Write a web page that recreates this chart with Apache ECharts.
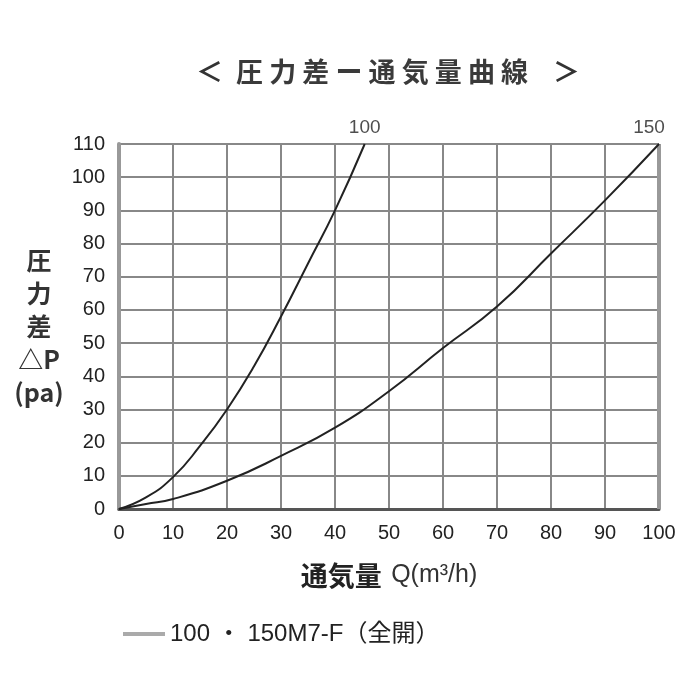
<!DOCTYPE html>
<html><head><meta charset="utf-8">
<script src="https://cdn.jsdelivr.net/npm/echarts@6/dist/echarts.min.js"></script>
<style>html,body{margin:0;padding:0;background:#fff}#c{width:700px;height:700px}</style>
</head><body><div id="c"></div>
<script>
const xTicks = [0,10,20,30,40,50,60,70,80,90,100];
const yTicks = [0,10,20,30,40,50,60,70,80,90,100,110];
const q100 = [0, 5, 10, 15, 20, 25, 30, 35, 40, 45.5];
const p100 = [0, 3.5, 9.6, 19, 30, 43, 58, 74, 90, 110];
const q150 = [0, 5, 10, 20, 30, 40, 50, 60, 70, 80, 90, 100];
const p150 = [0, 1.5, 3, 8.5, 16, 24.5, 35.5, 48.5, 61, 77, 93, 110];
const curveLabels = ['100', '150'];
const legendName = '100 ・ 150M7-F（全開）';

const font = "'Liberation Sans', 'Noto Sans CJK JP', sans-serif";
const cjk = "'Noto Sans CJK JP', sans-serif";
const ends = [
  {value:[q100[q100.length-1], p100[p100.length-1]], label:{formatter:curveLabels[0], offset:[0,0]}},
  {value:[q150[q150.length-1], p150[p150.length-1]], label:{formatter:curveLabels[1], offset:[-10,0]}}
];
const chart = echarts.init(document.getElementById('c'));
chart.setOption({
  animation:false,
  backgroundColor:'#fff',
  title:{text:'{a|＜}{b|圧 力 差 ー 通 気 量 曲 線}{c|＞}', left:196, top:58, padding:0, itemGap:0,
    textStyle:{fontSize:27, color:'#333', fontFamily:cjk,
      rich:{a:{width:40, fontSize:27, fontFamily:cjk, color:'#333'},
            b:{fontSize:27, fontWeight:'bold', fontFamily:cjk, color:'#3a3a3a'},
            c:{width:52, align:'right', fontSize:27, fontFamily:cjk, color:'#333'}}}},
  grid:{left:119, right:41, top:144, bottom:191},
  legend:{left:118, top:617, itemWidth:42, itemHeight:4, icon:'rect', itemGap:12, textStyle:{fontSize:24, color:'#222', fontFamily:font}, data:[legendName]},
  xAxis:{type:'value', min:0, max:100, interval:10,
    name:'{a|通気量}  {b|Q(m³/h)}', nameLocation:'middle', nameGap:53,
    nameTextStyle:{fontSize:21, color:'#222', fontFamily:cjk,
      rich:{a:{fontSize:27, fontWeight:'bold', fontFamily:cjk, color:'#222'},
            b:{fontSize:25, fontFamily:font, color:'#333'}}},
    axisLine:{show:true, lineStyle:{color:'#555', width:3}}, axisTick:{show:false},
    axisLabel:{fontSize:20, color:'#222', margin:14, fontFamily:font},
    splitLine:{show:true, lineStyle:{color:'#888', width:2}}},
  yAxis:{type:'value', min:0, max:110, interval:10,
    name:'圧\n力\n差\n△P\n(pa)', nameLocation:'middle', nameRotate:0, nameGap:80,
    nameTextStyle:{fontSize:25, fontWeight:'bold', color:'#333', align:'center', lineHeight:33, fontFamily:cjk, padding:[0,0,8,0]},
    axisLine:{show:true, lineStyle:{color:'#999', width:4}}, axisTick:{show:false},
    axisLabel:{fontSize:20, color:'#222', margin:14, fontFamily:font},
    splitLine:{show:true, lineStyle:{color:'#888', width:2}}},
  series:[
    {type:'line', name:'100', smooth:true, symbol:'none', showSymbol:false, data:q100.map((x,i)=>[x,p100[i]]), lineStyle:{color:'#222', width:2}, itemStyle:{color:'#222'}, z:5},
    {type:'line', name:'150', smooth:true, symbol:'none', showSymbol:false, data:q150.map((x,i)=>[x,p150[i]]), lineStyle:{color:'#222', width:2}, itemStyle:{color:'#222'}, z:5},
    {type:'line', name:legendName, data:[], lineStyle:{color:'#aaa'}, itemStyle:{color:'#aaa'}},
    {type:'line', data:[[100,0],[100,110]], symbol:'none', lineStyle:{color:'#999', width:4}, silent:true, z:4},
    {type:'scatter', data:ends, symbolSize:1, itemStyle:{color:'rgba(0,0,0,0)'}, silent:true, z:6,
      label:{show:true, position:'top', distance:6, fontSize:19, color:'#222', fontFamily:font}}
  ]
});
</script></body></html>
